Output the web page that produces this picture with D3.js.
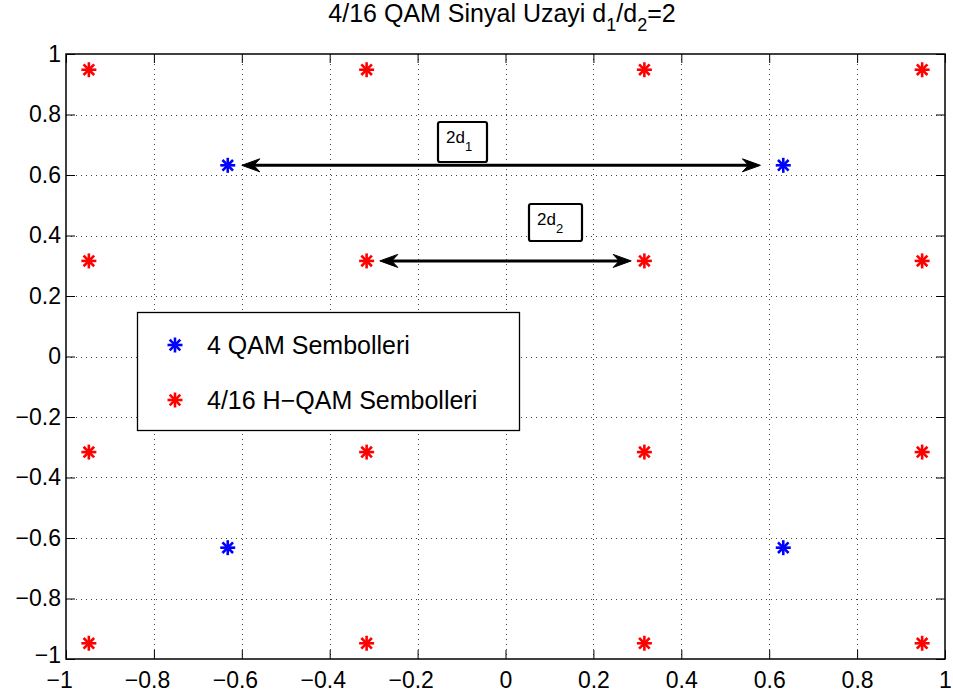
<!DOCTYPE html>
<html>
<head>
<meta charset="utf-8">
<script src="https://cdn.jsdelivr.net/npm/d3@7"></script>
<style>
  body { margin: 0; background: #fff; }
  text { font-family: "Liberation Sans", Arial, sans-serif; }
</style>
</head>
<body>
<svg id="chart" width="953" height="698"></svg>
<script>
// data
const qam4X = [-0.632, 0.632, -0.632, 0.632];
const qam4Y = [0.632, 0.632, -0.632, -0.632];

const hqamX = [-0.948, -0.316, 0.316, 0.948,
               -0.948, -0.316, 0.316, 0.948,
               -0.948, -0.316, 0.316, 0.948,
               -0.948, -0.316, 0.316, 0.948];
const hqamY = [0.948, 0.948, 0.948, 0.948,
               0.316, 0.316, 0.316, 0.316,
               -0.316, -0.316, -0.316, -0.316,
               -0.948, -0.948, -0.948, -0.948];

const xTicks = [-1, -0.8, -0.6, -0.4, -0.2, 0, 0.2, 0.4, 0.6, 0.8, 1];
const yTicks = [-1, -0.8, -0.6, -0.4, -0.2, 0, 0.2, 0.4, 0.6, 0.8, 1];

const legendLabels = ["4 QAM Sembolleri", "4/16 H\u2212QAM Sembolleri"];
const seriesColors = ["#0000ff", "#ff0000"];

// double headed arrows (x from, x to, y) and their labels
const arrowX1 = [-0.6, -0.286];
const arrowX2 = [0.58, 0.286];
const arrowY = [0.632, 0.316];
const boxSub = ["1", "2"];

const svg = d3.select("#chart");
const mLeft = 66, mRight = 945, mTop = 54, mBottom = 659;

const x = d3.scaleLinear().domain([-1, 1]).range([mLeft, mRight]);
const y = d3.scaleLinear().domain([-1, 1]).range([mBottom, mTop]);

const fmt = v => (v < 0 ? "\u2212" : "") + d3.format("")(Math.abs(v));

// grid
const grid = svg.append("g")
  .attr("stroke", "#444")
  .attr("stroke-width", 1)
  .attr("stroke-dasharray", "1,4");
grid.selectAll(".gx").data(xTicks.slice(1, -1)).join("line")
  .attr("x1", d => Math.round(x(d)) + 0.5).attr("x2", d => Math.round(x(d)) + 0.5)
  .attr("y1", mTop).attr("y2", mBottom);
grid.selectAll(".gy").data(yTicks.slice(1, -1)).join("line")
  .attr("y1", d => Math.round(y(d)) + 0.5).attr("y2", d => Math.round(y(d)) + 0.5)
  .attr("x1", mLeft).attr("x2", mRight);

// axes with inward ticks on all four sides
const tl = 9;
const axB = d3.axisBottom(x).tickValues(xTicks).tickSizeInner(-tl).tickSizeOuter(0).tickPadding(13).tickFormat(fmt);
const axT = d3.axisTop(x).tickValues(xTicks).tickSizeInner(-tl).tickSizeOuter(0).tickFormat("");
const axL = d3.axisLeft(y).tickValues(yTicks).tickSizeInner(-tl).tickSizeOuter(0).tickPadding(5).tickFormat(fmt);
const axR = d3.axisRight(y).tickValues(yTicks).tickSizeInner(-tl).tickSizeOuter(0).tickFormat("");

const gB = svg.append("g").attr("transform", `translate(0,${mBottom})`).call(axB);
svg.append("g").attr("transform", `translate(0,${mTop})`).call(axT);
const gL = svg.append("g").attr("transform", `translate(${mLeft},0)`).call(axL);
svg.append("g").attr("transform", `translate(${mRight},0)`).call(axR);

svg.selectAll(".domain").remove();
svg.selectAll(".tick line").attr("stroke", "#000").attr("stroke-width", 1);
gB.selectAll(".tick text")
  .attr("font-size", 23).attr("fill", "#000")
  .attr("dx", d => d < 0 ? "-0.3em" : 0);
gL.selectAll(".tick text")
  .attr("font-size", 23).attr("fill", "#000")
  .attr("y", d => d === -1 ? -4 : 0);

svg.append("rect")
  .attr("x", mLeft).attr("y", mTop)
  .attr("width", mRight - mLeft).attr("height", mBottom - mTop)
  .attr("fill", "none").attr("stroke", "#000").attr("stroke-width", 1.5);

// asterisk marker
function star(g, cx, cy, color, r) {
  const a = g.append("g").attr("transform", `translate(${cx},${cy})`)
    .attr("stroke", color).attr("stroke-width", 2.6).attr("stroke-linecap", "butt");
  [0, 45, 90, 135].forEach(ang => {
    const t = ang * Math.PI / 180;
    a.append("line")
      .attr("x1", -r * Math.cos(t)).attr("y1", -r * Math.sin(t))
      .attr("x2", r * Math.cos(t)).attr("y2", r * Math.sin(t));
  });
}

const marks = svg.append("g");
hqamX.forEach((v, i) => star(marks, x(v), y(hqamY[i]), seriesColors[1], 7.5));
qam4X.forEach((v, i) => star(marks, x(v), y(qam4Y[i]), seriesColors[0], 7.5));

// arrows
function head(g, tx, ty, dir) {
  const L = 18, W = 6.5, N = 12;
  g.append("path")
    .attr("d", `M${tx},${ty} L${tx - dir * L},${ty - W} L${tx - dir * N},${ty} L${tx - dir * L},${ty + W} Z`)
    .attr("fill", "#000").attr("stroke", "#000").attr("stroke-width", 1).attr("stroke-linejoin", "round");
}
const arr = svg.append("g");
arrowY.forEach((v, i) => {
  const yy = y(v), xa = x(arrowX1[i]), xb = x(arrowX2[i]);
  arr.append("line").attr("x1", xa + 10).attr("x2", xb - 10)
    .attr("y1", yy).attr("y2", yy).attr("stroke", "#000").attr("stroke-width", 3);
  head(arr, xb, yy, 1);
  head(arr, xa, yy, -1);
});

// text boxes
const boxes = [
  { x0: 438, y0: 122, w: 49, h: 40 },
  { x0: 529, y0: 204, w: 53, h: 37 }
];
boxes.forEach((b, i) => {
  const g = svg.append("g");
  g.append("rect").attr("x", b.x0).attr("y", b.y0).attr("width", b.w).attr("height", b.h)
    .attr("rx", 2).attr("fill", "#fff").attr("stroke", "#000").attr("stroke-width", 2.2);
  const t = g.append("text").attr("x", b.x0 + 8).attr("y", b.y0 + 21).attr("font-size", 17).attr("fill", "#000");
  t.append("tspan").text("2d");
  t.append("tspan").attr("font-size", 13).attr("dy", 8).text(boxSub[i]);
});

// legend
const lg = svg.append("g");
lg.append("rect").attr("x", 137.5).attr("y", 312.5).attr("width", 382).attr("height", 118)
  .attr("fill", "#fff").attr("stroke", "#000").attr("stroke-width", 1.3);
legendLabels.forEach((lab, i) => {
  const cy = 345 + i * 55;
  star(lg, 175, cy, seriesColors[i], 7.5);
  lg.append("text").attr("x", 207).attr("y", cy + 9)
    .attr("font-size", 25).attr("fill", "#000").text(lab);
});

// title
const title = svg.append("text").attr("x", 502).attr("y", 22)
  .attr("text-anchor", "middle").attr("font-size", 25).attr("fill", "#000");
title.append("tspan").text("4/16 QAM Sinyal Uzayi d");
title.append("tspan").attr("font-size", 18).attr("dy", 9).text("1");
title.append("tspan").attr("dy", -9).text("/d");
title.append("tspan").attr("font-size", 18).attr("dy", 9).text("2");
title.append("tspan").attr("dy", -9).text("=2");
</script>
</body>
</html>
